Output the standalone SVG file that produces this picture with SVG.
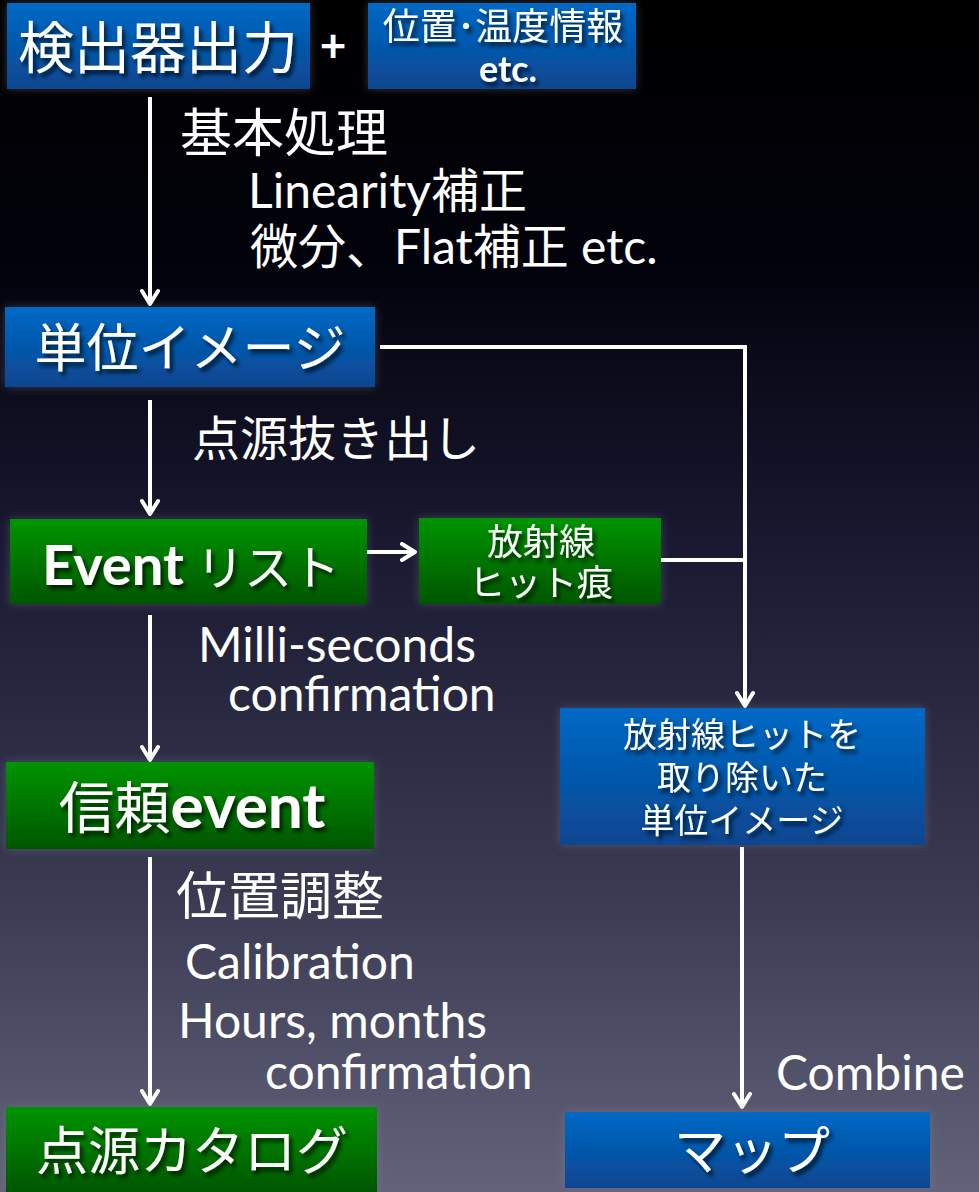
<svg xmlns="http://www.w3.org/2000/svg" width="979" height="1192" viewBox="0 0 979 1192">
<defs>
<linearGradient id="bg" x1="0" y1="0" x2="0" y2="1">
<stop offset="0" stop-color="#000000"/>
<stop offset="0.22" stop-color="#02020c"/>
<stop offset="0.45" stop-color="#181830"/>
<stop offset="0.75" stop-color="#3a3a52"/>
<stop offset="1" stop-color="#62627a"/>
</linearGradient>
<linearGradient id="blue" x1="0" y1="0" x2="0" y2="1">
<stop offset="0" stop-color="#0069c6"/>
<stop offset="1" stop-color="#0a4690"/>
</linearGradient>
<linearGradient id="green" x1="0" y1="0" x2="0" y2="1">
<stop offset="0" stop-color="#009400"/>
<stop offset="1" stop-color="#005600"/>
</linearGradient>
<filter id="ts" x="-10%" y="-20%" width="130%" height="150%">
<feDropShadow dx="3" dy="4" stdDeviation="2" flood-color="#000" flood-opacity="0.7"/>
</filter>
<filter id="glow" x="-10%" y="-20%" width="120%" height="140%">
<feGaussianBlur in="SourceAlpha" stdDeviation="5" result="b"/>
<feFlood flood-color="#8a8aa0" flood-opacity="0.35"/>
<feComposite in2="b" operator="in" result="g"/>
<feMerge><feMergeNode in="g"/><feMergeNode in="SourceGraphic"/></feMerge>
</filter>
<marker id="ah" viewBox="0 0 20 20" refX="16" refY="10" markerWidth="20" markerHeight="20" markerUnits="userSpaceOnUse" orient="auto">
<path d="M3,2 L16,10 L3,18" fill="none" stroke="#fff" stroke-width="4" stroke-linecap="round" stroke-linejoin="round"/>
</marker>
<style>
.bt{fill:#fff;font-family:"Lato","Noto Sans CJK JP",sans-serif;text-anchor:middle;filter:url(#ts)}
.lb{fill:#fff;font-family:"Lato","Noto Sans CJK JP",sans-serif;font-size:48px}
.lj{font-size:52px}
.cn{fill:none;stroke:#fff;stroke-width:4}
</style>
</defs>
<rect width="979" height="1192" fill="url(#bg)"/>

<g id="connectors">
<line class="cn" x1="150" y1="97" x2="150" y2="304" marker-end="url(#ah)"/>
<line class="cn" x1="150" y1="400" x2="150" y2="514" marker-end="url(#ah)"/>
<line class="cn" x1="150" y1="615" x2="150" y2="760" marker-end="url(#ah)"/>
<line class="cn" x1="150" y1="857" x2="150" y2="1104" marker-end="url(#ah)"/>
<polyline class="cn" points="380,347 745,347 745,706" marker-end="url(#ah)"/>
<line class="cn" x1="358" y1="552" x2="415" y2="552" marker-end="url(#ah)"/>
<line class="cn" x1="661" y1="560" x2="743" y2="560"/>
<line class="cn" x1="742" y1="847" x2="742" y2="1107" marker-end="url(#ah)"/>
</g>

<g id="n-detector" filter="url(#glow)">
<rect x="7" y="3" width="303" height="86" fill="url(#blue)"/>
<text class="bt" x="158" y="68" font-size="56">検出器出力</text>
</g>
<text id="plus" x="333" y="62" fill="#fff" font-family="Lato, sans-serif" font-weight="bold" font-size="46" text-anchor="middle">+</text>
<g id="n-info" filter="url(#glow)">
<rect x="368" y="3" width="268" height="86" fill="url(#blue)"/>
<text class="bt" x="503" y="40" font-size="37">位置･温度情報</text>
<text class="bt" x="508" y="82" font-size="36" font-weight="bold">etc.</text>
</g>

<g id="labels1">
<text class="lb lj" x="180" y="152">基本処理</text>
<text class="lb" x="248" y="208">Linearity補正</text>
<text class="lb" x="250" y="264">微分、Flat補正 etc.</text>
</g>

<g id="n-unit" filter="url(#glow)">
<rect x="5" y="307" width="370" height="80" fill="url(#blue)"/>
<text class="bt" x="190" y="367" font-size="52">単位イメージ</text>
</g>

<text class="lb" x="192" y="456" font-size="50">点源抜き出し</text>

<g id="n-event" filter="url(#glow)">
<rect x="10" y="519" width="357" height="85" fill="url(#green)"/>
<text class="bt" x="191" y="585" font-size="48"><tspan font-weight="bold" font-size="56">Event</tspan> リスト</text>
</g>

<g id="n-hit" filter="url(#glow)">
<rect x="419" y="518" width="242" height="86" fill="url(#green)"/>
<text class="bt" x="541" y="555" font-size="36">放射線</text>
<text class="bt" x="541" y="596" font-size="36">ヒット痕</text>
</g>

<g id="labels2">
<text class="lb" x="198" y="662">Milli-seconds</text>
<text class="lb" x="228" y="711">confirmation</text>
</g>

<g id="n-reliable" filter="url(#glow)">
<rect x="6" y="762" width="368" height="87" fill="url(#green)"/>
<text class="bt" x="192" y="828" font-size="56">信頼<tspan font-weight="bold" font-size="62">event</tspan></text>
</g>

<g id="n-removed" filter="url(#glow)">
<rect x="560" y="708" width="365" height="137" fill="url(#blue)"/>
<text class="bt" x="742" y="747" font-size="34">放射線ヒットを</text>
<text class="bt" x="742" y="790" font-size="34">取り除いた</text>
<text class="bt" x="742" y="833" font-size="34">単位イメージ</text>
</g>

<g id="labels3">
<text class="lb lj" x="176" y="915">位置調整</text>
<text class="lb" x="185" y="979">Calibration</text>
<text class="lb" x="178" y="1038">Hours, months</text>
<text class="lb" x="265" y="1089">confirmation</text>
<text class="lb" x="776" y="1090">Combine</text>
</g>

<g id="n-catalog" filter="url(#glow)">
<rect x="6" y="1107" width="371" height="85" fill="url(#green)"/>
<text class="bt" x="192" y="1170" font-size="52">点源カタログ</text>
</g>

<g id="n-map" filter="url(#glow)">
<rect x="565" y="1112" width="365" height="76" fill="url(#blue)"/>
<text class="bt" x="752" y="1170" font-size="52">マップ</text>
</g>
</svg>
